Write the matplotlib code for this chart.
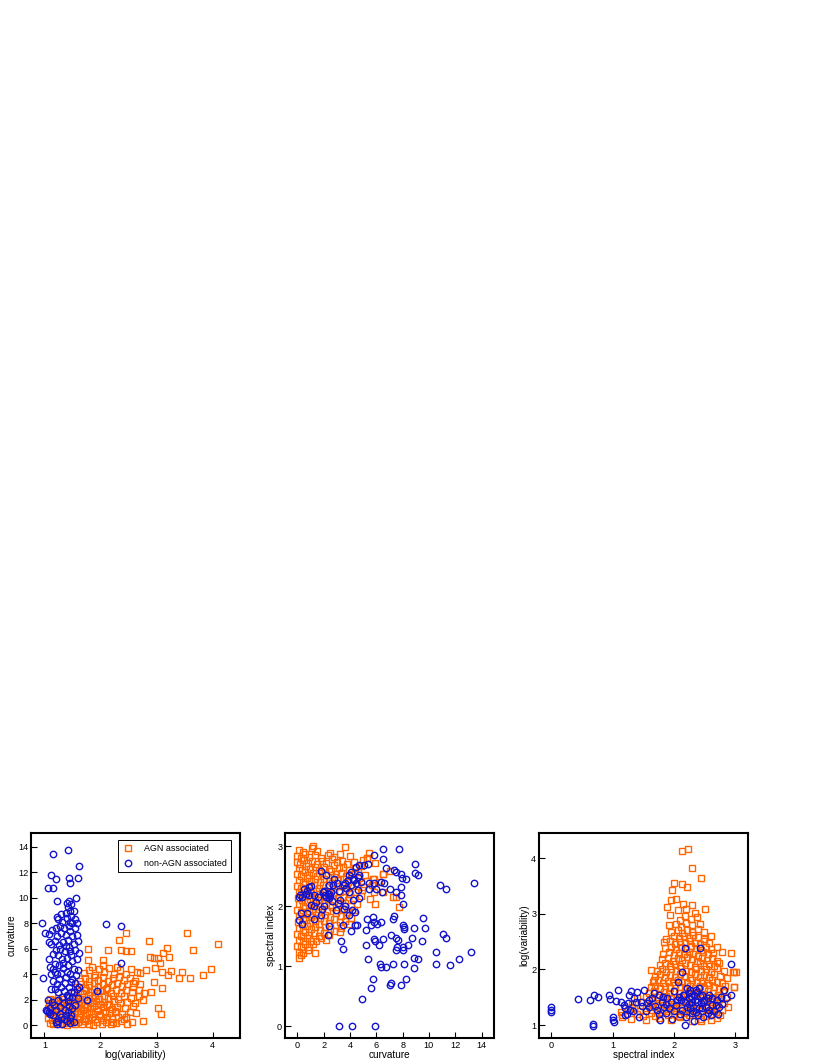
import matplotlib
matplotlib.use("Agg")
import matplotlib.pyplot as plt

plt.rcParams['font.family'] = ['Liberation Sans', 'DejaVu Sans']

# ---- panel 1 : log(variability) vs curvature ----
var_curv_agn = [
    (1.10, 0.15), (1.16, 0.05), (1.22, 0.22), (1.28, 0.08), (1.35, 0.18), (1.41, 0.04), (1.48, 0.25),
    (1.54, 0.10), (1.60, 0.20), (1.67, 0.06), (1.73, 0.28), (1.80, 0.12), (1.87, 0.02), (1.94, 0.20),
    (2.02, 0.10), (2.10, 0.26), (2.18, 0.05), (2.27, 0.18), (2.36, 0.30), (2.48, 0.12),
    (1.07, 0.55), (1.13, 0.42), (1.19, 0.66), (1.26, 0.48), (1.32, 0.60), (1.39, 0.40), (1.45, 0.70),
    (1.51, 0.52), (1.58, 0.44), (1.64, 0.65), (1.71, 0.50), (1.77, 0.38), (1.84, 0.62), (1.91, 0.47),
    (1.98, 0.68), (2.05, 0.42), (2.12, 0.60), (2.21, 0.50), (2.31, 0.66), (2.42, 0.45),
    (1.09, 0.95), (1.15, 0.84), (1.21, 1.05), (1.28, 0.90), (1.34, 1.10), (1.41, 0.82), (1.47, 1.00),
    (1.53, 0.88), (1.60, 1.08), (1.66, 0.92), (1.73, 0.80), (1.79, 1.02), (1.86, 0.90), (1.93, 1.12),
    (2.00, 0.85), (2.08, 1.00), (2.16, 0.92), (2.26, 1.08), (2.38, 0.88), (2.52, 1.02),
    (1.06, 1.35), (1.12, 1.22), (1.18, 1.48), (1.24, 1.30), (1.31, 1.44), (1.37, 1.20), (1.44, 1.38),
    (1.50, 1.26), (1.56, 1.50), (1.63, 1.32), (1.69, 1.20), (1.76, 1.45), (1.82, 1.30), (1.89, 1.52),
    (1.96, 1.25), (2.04, 1.40), (2.12, 1.55), (2.20, 1.28), (2.30, 1.45), (2.44, 1.35), (2.58, 1.50),
    (1.08, 1.75), (1.14, 1.62), (1.20, 1.88), (1.27, 1.70), (1.33, 1.85), (1.40, 1.60), (1.46, 1.80),
    (1.52, 1.66), (1.59, 1.92), (1.65, 1.72), (1.72, 1.60), (1.78, 1.86), (1.85, 1.70), (1.92, 1.90),
    (1.99, 1.64), (2.07, 1.82), (2.15, 1.68), (2.24, 1.92), (2.35, 1.75), (2.48, 1.85), (2.62, 1.70),
    (1.10, 2.05), (1.17, 2.00), (1.25, 2.15), (1.34, 2.02), (1.42, 2.22), (1.50, 2.08), (1.57, 2.30),
    (1.63, 2.05), (1.70, 2.20), (1.77, 2.35), (1.84, 2.10), (1.91, 2.28), (1.98, 2.05), (2.06, 2.25),
    (2.14, 2.12), (2.22, 2.32), (2.32, 2.08), (2.42, 2.25), (2.55, 2.15), (2.68, 2.30),
    (1.52, 2.55), (1.60, 2.70), (1.67, 2.48), (1.74, 2.75), (1.81, 2.58), (1.88, 2.80), (1.95, 2.50),
    (2.02, 2.68), (2.10, 2.82), (2.18, 2.55), (2.27, 2.72), (2.36, 2.48), (2.45, 2.78), (2.56, 2.60),
    (2.68, 2.75), (2.78, 2.55),
    (1.58, 3.00), (1.66, 3.20), (1.73, 2.95), (1.80, 3.15), (1.88, 3.28), (1.96, 3.02), (2.04, 3.22),
    (2.12, 2.95), (2.20, 3.18), (2.29, 3.30), (2.38, 3.05), (2.48, 3.25), (2.58, 2.98), (2.70, 3.20),
    (1.63, 3.50), (1.72, 3.70), (1.80, 3.45), (1.88, 3.78), (1.96, 3.55), (2.05, 3.75), (2.14, 3.48),
    (2.23, 3.68), (2.33, 3.80), (2.42, 3.52), (2.52, 3.72), (2.62, 3.45),
    (1.70, 4.10), (1.80, 4.30), (1.90, 3.95), (1.98, 4.40), (2.07, 4.15), (2.16, 4.45), (2.25, 4.00),
    (2.35, 4.30), (2.45, 4.05), (2.55, 4.38), (2.65, 4.20), (1.85, 4.60), (2.05, 4.70), (2.30, 4.60),
    (4.09, 6.37), (3.54, 7.21), (3.66, 5.90), (3.83, 3.93), (3.98, 4.40), (3.46, 4.20), (3.59, 3.67),
    (3.41, 3.72), (3.26, 4.27), (3.20, 3.93), (3.19, 6.03), (3.22, 5.37), (3.11, 5.64), (3.02, 5.30),
    (2.96, 5.30), (2.88, 5.37), (2.86, 6.60), (3.10, 4.20), (3.07, 4.85), (2.95, 3.40), (2.98, 4.46),
    (3.10, 2.88), (3.02, 1.31), (3.08, 0.84), (2.76, 0.31), (2.45, 7.26), (2.33, 6.69), (2.36, 5.90),
    (2.46, 5.82), (2.55, 5.82), (2.14, 5.90), (1.78, 5.98), (1.78, 5.11), (2.05, 5.11), (2.70, 4.06),
    (2.82, 4.33), (2.91, 2.62), (2.76, 1.97), (2.58, 3.28), (2.64, 0.92), (2.46, 0.66), (2.57, 0.26),
    (2.22, 0.26), (2.28, 1.05),
]
var_curv_other = [
    (1.16, 13.45), (1.42, 13.74), (1.62, 12.53), (1.12, 11.80), (1.43, 11.60), (1.59, 11.60),
    (1.21, 11.46), (1.46, 11.14), (1.06, 10.75), (1.16, 10.75), (1.56, 10.00), (1.22, 9.75),
    (1.43, 9.75), (0.96, 8.05), (1.01, 7.20), (2.09, 7.94), (2.36, 7.79), (2.36, 4.85), (1.93, 2.70),
    (1.76, 2.00), (0.98, 3.67), (1.09, 7.13), (1.13, 7.47),
    (1.02, 1.20), (1.05, 1.10), (1.08, 1.05), (1.10, 1.30), (1.06, 2.00), (1.13, 1.80), (1.10, 0.90),
    (1.15, 0.80), (1.20, 0.25), (1.22, 0.10), (1.25, 0.30), (1.28, 0.90), (1.30, 0.60), (1.32, 0.10),
    (1.35, 0.45), (1.38, 0.80), (1.40, 0.30), (1.42, 1.00), (1.45, 0.15), (1.46, 0.55), (1.48, 0.80),
    (1.50, 1.35), (1.52, 0.20), (1.28, 1.40), (1.20, 1.20), (1.17, 1.60), (1.24, 2.00), (1.35, 1.70),
    (1.42, 1.90), (1.50, 2.20), (1.55, 1.60), (1.60, 2.10), (1.58, 2.80), (1.62, 3.00), (1.55, 3.30),
    (1.48, 2.60), (1.40, 2.40), (1.32, 2.20), (1.25, 2.60), (1.18, 2.80), (1.12, 2.80), (1.15, 3.50),
    (1.22, 3.20), (1.30, 3.00), (1.37, 3.30), (1.44, 3.00), (1.50, 3.60), (1.56, 3.90), (1.60, 4.30),
    (1.52, 4.40), (1.45, 4.00), (1.38, 3.80), (1.30, 4.10), (1.22, 4.00), (1.15, 4.40), (1.10, 4.60),
    (1.18, 4.80), (1.26, 4.70), (1.34, 4.50), (1.42, 4.70), (1.50, 5.00), (1.58, 5.20), (1.62, 5.70),
    (1.55, 5.90), (1.48, 5.50), (1.40, 5.30), (1.32, 5.20), (1.24, 5.50), (1.16, 5.60), (1.20, 5.90),
    (1.28, 6.00), (1.36, 5.80), (1.44, 6.10), (1.52, 6.40), (1.60, 6.60), (1.58, 7.10), (1.50, 7.00),
    (1.42, 6.70), (1.34, 6.50), (1.26, 6.30), (1.18, 6.60), (1.12, 6.40), (1.08, 6.50), (1.22, 7.00),
    (1.30, 7.20), (1.38, 7.10), (1.46, 7.40), (1.54, 7.60), (1.58, 8.00), (1.50, 8.00), (1.43, 7.80),
    (1.35, 7.60), (1.27, 7.80), (1.20, 7.60), (1.24, 8.30), (1.32, 8.10), (1.40, 8.40), (1.48, 8.60),
    (1.55, 8.30), (1.45, 9.00), (1.38, 8.80), (1.42, 9.30), (1.40, 9.60), (1.47, 9.50), (1.52, 9.00),
    (1.30, 8.70), (1.22, 8.50), (1.45, 8.10), (1.38, 6.20), (1.46, 5.80), (1.33, 4.90), (1.41, 4.20),
    (1.47, 3.40), (1.35, 2.70), (1.43, 2.20), (1.36, 1.20), (1.44, 1.50), (1.52, 2.60), (1.26, 3.60),
    (1.19, 4.20), (1.12, 4.00), (1.09, 5.20),
]

# ---- panel 2 : curvature vs spectral index ----
curv_index_agn = [
    (0.10, 2.94), (0.40, 2.90), (1.10, 2.97), (1.50, 2.92), (2.50, 2.89), (3.60, 2.99), (1.15, 3.00),
    (0.00, 2.84), (0.30, 2.80), (0.60, 2.87), (0.90, 2.82), (1.30, 2.86), (1.80, 2.81), (2.30, 2.85),
    (2.80, 2.82), (3.20, 2.87), (4.00, 2.83), (5.30, 2.81), (5.47, 2.89),
    (-0.05, 2.74), (0.20, 2.71), (0.50, 2.77), (0.80, 2.72), (1.10, 2.76), (1.50, 2.70), (1.90, 2.75),
    (2.20, 2.72), (2.60, 2.78), (3.00, 2.73), (3.40, 2.76), (3.80, 2.71), (4.30, 2.74), (5.00, 2.77),
    (5.90, 2.72),
    (0.10, 2.64), (0.35, 2.61), (0.65, 2.67), (0.95, 2.62), (1.30, 2.66), (1.65, 2.60), (2.00, 2.65),
    (2.40, 2.62), (2.80, 2.68), (3.15, 2.63), (3.50, 2.66), (3.90, 2.61), (4.40, 2.64), (4.80, 2.67),
    (6.50, 2.53), (7.00, 2.58),
    (0.00, 2.54), (0.25, 2.51), (0.55, 2.57), (0.85, 2.52), (1.20, 2.56), (1.50, 2.50), (1.85, 2.55),
    (2.20, 2.52), (2.55, 2.58), (2.90, 2.53), (3.30, 2.56), (3.70, 2.51), (4.10, 2.54), (4.60, 2.57),
    (5.10, 2.52), (5.80, 2.46),
    (0.10, 2.44), (0.40, 2.41), (0.70, 2.47), (1.00, 2.42), (1.35, 2.46), (1.70, 2.40), (2.05, 2.45),
    (2.40, 2.42), (2.75, 2.48), (3.10, 2.43), (3.45, 2.46), (3.85, 2.41), (4.25, 2.44), (4.70, 2.47),
    (5.30, 2.42), (6.20, 2.40),
    (0.00, 2.34), (0.30, 2.31), (0.60, 2.37), (0.90, 2.32), (1.25, 2.36), (1.60, 2.30), (1.95, 2.35),
    (2.30, 2.32), (2.65, 2.38), (3.00, 2.33), (3.35, 2.36), (3.75, 2.31), (4.15, 2.34), (4.55, 2.37),
    (5.00, 2.32), (5.70, 2.35),
    (0.15, 2.24), (0.45, 2.21), (0.75, 2.27), (1.05, 2.22), (1.40, 2.26), (1.75, 2.20), (2.10, 2.25),
    (2.45, 2.22), (2.80, 2.28), (3.20, 2.23), (3.60, 2.26), (4.00, 2.21), (4.40, 2.24), (4.90, 2.27),
    (5.85, 2.24), (6.49, 2.24), (7.30, 2.16), (7.50, 2.16),
    (0.05, 2.14), (0.35, 2.11), (0.65, 2.17), (0.95, 2.12), (1.30, 2.16), (1.65, 2.10), (2.00, 2.15),
    (2.35, 2.12), (2.70, 2.18), (3.05, 2.13), (3.45, 2.16), (3.85, 2.11), (4.30, 2.14), (4.80, 2.17),
    (5.50, 2.12),
    (0.10, 2.04), (0.40, 2.01), (0.70, 2.07), (1.00, 2.02), (1.35, 2.06), (1.70, 2.00), (2.05, 2.05),
    (2.45, 2.02), (2.80, 2.08), (3.20, 2.03), (3.60, 2.06), (4.05, 2.01), (4.50, 2.04), (5.93, 2.03),
    (7.70, 1.99),
    (0.00, 1.94), (0.30, 1.91), (0.60, 1.97), (0.90, 1.92), (1.20, 1.96), (1.55, 1.90), (1.90, 1.95),
    (2.25, 1.92), (2.60, 1.98), (3.00, 1.93), (3.40, 1.96), (3.80, 1.91), (4.30, 1.94),
    (0.15, 1.84), (0.45, 1.81), (0.75, 1.87), (1.05, 1.82), (1.40, 1.86), (1.75, 1.80), (2.10, 1.85),
    (2.50, 1.82), (2.90, 1.88), (3.30, 1.83), (3.70, 1.86), (4.10, 1.81),
    (0.05, 1.74), (0.35, 1.71), (0.65, 1.77), (0.95, 1.72), (1.30, 1.76), (1.65, 1.70), (2.00, 1.75),
    (2.40, 1.72), (2.80, 1.78), (3.20, 1.73), (3.60, 1.76), (3.90, 1.71),
    (0.10, 1.64), (0.40, 1.61), (0.70, 1.67), (1.00, 1.62), (1.35, 1.66), (1.70, 1.60), (2.10, 1.65),
    (2.50, 1.62), (2.90, 1.68), (3.30, 1.63),
    (0.00, 1.54), (0.30, 1.51), (0.60, 1.57), (0.90, 1.52), (1.25, 1.56), (1.60, 1.50), (2.00, 1.55),
    (2.40, 1.52), (2.80, 1.58), (3.23, 1.57),
    (0.10, 1.44), (0.40, 1.41), (0.70, 1.47), (1.00, 1.42), (1.40, 1.41), (1.80, 1.46), (2.20, 1.43),
    (0.00, 1.34), (0.30, 1.31), (0.60, 1.37), (0.90, 1.32), (1.20, 1.36),
    (0.10, 1.24), (0.40, 1.21), (0.80, 1.27), (1.35, 1.21),
    (0.13, 1.13), (0.25, 1.18), (5.27, 2.81), (5.78, 2.46), (6.49, 2.53),
]
curv_index_other = [
    (3.13, 0.00), (4.15, 0.00), (5.90, 0.00), (4.91, 0.45), (5.60, 0.64), (5.73, 0.79), (7.00, 0.68),
    (7.08, 0.71), (7.84, 0.69), (8.27, 0.78), (5.35, 1.11), (6.36, 0.99), (6.29, 1.04), (6.74, 0.99),
    (7.25, 1.03), (8.09, 1.03), (8.83, 1.13), (9.16, 1.12), (8.86, 0.96), (10.56, 1.03), (11.58, 1.02),
    (12.29, 1.12), (13.23, 1.23), (10.56, 1.24), (6.18, 1.35), (5.22, 1.35), (5.80, 1.45), (6.49, 1.45),
    (5.93, 1.41), (7.13, 1.52), (7.51, 1.47), (7.63, 1.43), (8.02, 1.32), (8.40, 1.35), (8.73, 1.47),
    (9.49, 1.41), (11.07, 1.54), (11.33, 1.46), (7.51, 1.27), (7.58, 1.31), (8.02, 1.27), (3.31, 1.41),
    (3.44, 1.29), (2.29, 1.52), (5.22, 1.60), (5.60, 1.68), (5.85, 1.74), (6.03, 1.71), (6.36, 1.74),
    (5.27, 1.79), (5.73, 1.82), (7.25, 1.79), (7.38, 1.84), (8.02, 1.68), (8.14, 1.66), (8.09, 1.62),
    (8.86, 1.63), (9.72, 1.63), (9.54, 1.81), (4.07, 1.58), (4.40, 1.69), (4.53, 1.68), (3.95, 1.85),
    (4.15, 1.93), (4.40, 1.91), (4.20, 2.10), (4.71, 2.14), (4.07, 2.57), (4.45, 2.66), (4.71, 2.68),
    (5.09, 2.68), (5.35, 2.71), (5.85, 2.86), (6.49, 2.95), (7.76, 2.96), (6.49, 2.79), (6.74, 2.63),
    (7.38, 2.60), (7.51, 2.57), (7.89, 2.53), (7.96, 2.47), (8.22, 2.45), (7.84, 2.32), (7.51, 2.24),
    (7.84, 2.19), (8.02, 2.04), (7.00, 2.29), (6.55, 2.38), (6.36, 2.41), (6.44, 2.24), (5.47, 2.29),
    (5.42, 2.38), (5.85, 2.38), (5.98, 2.29), (8.96, 2.56), (9.16, 2.52), (8.96, 2.71), (10.87, 2.35),
    (11.33, 2.28), (13.44, 2.39), (1.86, 1.96), (0.76, 1.88), (0.08, 1.77), (0.38, 1.71), (1.27, 1.78),
    (2.37, 1.67), (3.49, 1.69), (0.25, 1.89), (4.58, 2.27), (3.95, 2.24),
    (0.08, 2.16), (0.20, 2.18), (0.51, 2.29), (0.89, 2.32), (1.02, 2.34), (0.76, 2.26), (0.89, 2.18),
    (1.22, 2.18), (1.02, 2.02), (1.27, 2.00), (0.38, 2.16), (1.53, 2.16), (1.78, 2.58), (1.96, 2.24),
    (2.04, 2.26), (2.11, 2.18), (2.16, 2.16), (2.29, 2.21), (2.42, 2.21), (2.47, 2.17), (2.55, 2.24),
    (2.37, 2.13), (2.16, 2.52), (2.42, 2.35), (2.67, 2.35), (2.80, 2.45), (2.98, 2.39), (3.18, 2.26),
    (3.23, 2.10), (3.05, 2.06), (2.62, 2.08), (2.04, 2.00), (3.51, 2.35), (3.64, 2.38), (3.69, 2.31),
    (3.82, 2.43), (3.95, 2.52), (4.20, 2.46), (4.33, 2.43), (4.45, 2.39), (4.58, 2.49), (4.71, 2.52),
    (4.84, 2.40), (4.07, 2.35), (3.64, 2.00), (3.51, 1.96), (2.93, 1.93), (1.78, 1.86), (1.40, 2.07),
    (0.64, 2.21),
]

# ---- panel 3 : spectral index vs log(variability) ----
index_var_agn = [
    (1.30, 1.12), (1.55, 1.09), (1.75, 1.13), (1.95, 1.10), (2.10, 1.14), (2.30, 1.08), (2.45, 1.12),
    (2.60, 1.10), (2.70, 1.13),
    (1.16, 1.18), (1.40, 1.20), (1.50, 1.16), (1.62, 1.21), (1.70, 1.17), (1.80, 1.22), (1.90, 1.18),
    (2.00, 1.20), (2.08, 1.16), (2.16, 1.22), (2.25, 1.18), (2.35, 1.21), (2.52, 1.17), (2.62, 1.20),
    (2.75, 1.19),
    (1.25, 1.28), (1.35, 1.31), (1.45, 1.26), (1.55, 1.30), (1.65, 1.27), (1.72, 1.32), (1.80, 1.28),
    (1.88, 1.25), (1.96, 1.31), (2.04, 1.27), (2.12, 1.30), (2.20, 1.26), (2.28, 1.32), (2.36, 1.28),
    (2.44, 1.25), (2.52, 1.31), (2.60, 1.27), (2.68, 1.30), (2.78, 1.28),
    (1.32, 1.38), (1.48, 1.41), (1.58, 1.36), (1.66, 1.40), (1.74, 1.37), (1.82, 1.42), (1.90, 1.38),
    (1.98, 1.35), (2.06, 1.41), (2.14, 1.37), (2.22, 1.40), (2.30, 1.36), (2.38, 1.42), (2.46, 1.38),
    (2.54, 1.35), (2.62, 1.41), (2.70, 1.37), (2.82, 1.40),
    (1.40, 1.48), (1.55, 1.51), (1.64, 1.46), (1.72, 1.50), (1.80, 1.47), (1.88, 1.52), (1.96, 1.48),
    (2.04, 1.45), (2.12, 1.51), (2.20, 1.47), (2.28, 1.50), (2.36, 1.46), (2.44, 1.52), (2.52, 1.48),
    (2.60, 1.45), (2.68, 1.51), (2.76, 1.47), (2.86, 1.50),
    (1.60, 1.58), (1.68, 1.61), (1.76, 1.56), (1.84, 1.60), (1.92, 1.57), (2.00, 1.62), (2.08, 1.58),
    (2.16, 1.55), (2.24, 1.61), (2.32, 1.57), (2.40, 1.60), (2.48, 1.56), (2.56, 1.62), (2.64, 1.58),
    (2.72, 1.55), (2.80, 1.61),
    (1.62, 1.68), (1.70, 1.71), (1.78, 1.66), (1.86, 1.70), (1.94, 1.67), (2.02, 1.72), (2.10, 1.68),
    (2.18, 1.65), (2.26, 1.71), (2.34, 1.67), (2.42, 1.70), (2.50, 1.66), (2.58, 1.72), (2.66, 1.68),
    (2.74, 1.65), (2.84, 1.71), (2.98, 1.69),
    (1.66, 1.78), (1.74, 1.81), (1.82, 1.76), (1.90, 1.80), (1.98, 1.77), (2.06, 1.82), (2.14, 1.78),
    (2.22, 1.75), (2.30, 1.81), (2.38, 1.77), (2.46, 1.80), (2.54, 1.76), (2.62, 1.82), (2.70, 1.78),
    (2.78, 1.75),
    (1.70, 1.88), (1.78, 1.91), (1.86, 1.86), (1.94, 1.90), (2.02, 1.87), (2.10, 1.92), (2.18, 1.88),
    (2.26, 1.85), (2.34, 1.91), (2.42, 1.87), (2.50, 1.90), (2.58, 1.86), (2.66, 1.92), (2.76, 1.88),
    (2.86, 1.85),
    (1.72, 1.98), (1.80, 2.01), (1.88, 1.96), (1.96, 2.00), (2.04, 1.97), (2.12, 2.02), (2.20, 1.98),
    (2.28, 1.95), (2.36, 2.01), (2.44, 1.97), (2.52, 2.00), (2.60, 1.96), (2.70, 2.02), (2.82, 1.98),
    (2.96, 1.96),
    (1.78, 2.08), (1.86, 2.11), (1.94, 2.06), (2.02, 2.10), (2.10, 2.07), (2.18, 2.12), (2.26, 2.08),
    (2.34, 2.05), (2.42, 2.11), (2.50, 2.07), (2.58, 2.10), (2.66, 2.06), (2.74, 2.12),
    (1.80, 2.18), (1.90, 2.21), (1.98, 2.16), (2.06, 2.20), (2.14, 2.17), (2.22, 2.22), (2.30, 2.18),
    (2.38, 2.15), (2.46, 2.21), (2.54, 2.17), (2.62, 2.20), (2.70, 2.16),
    (1.82, 2.28), (1.92, 2.31), (2.00, 2.26), (2.08, 2.30), (2.16, 2.27), (2.24, 2.32), (2.32, 2.28),
    (2.40, 2.25), (2.48, 2.31), (2.56, 2.27), (2.64, 2.30), (2.79, 2.32), (2.93, 2.30),
    (1.86, 2.38), (1.96, 2.41), (2.04, 2.36), (2.12, 2.40), (2.20, 2.37), (2.28, 2.42), (2.36, 2.38),
    (2.44, 2.35), (2.52, 2.41), (2.60, 2.37), (2.70, 2.40),
    (1.84, 2.49), (1.94, 2.51), (2.02, 2.46), (2.10, 2.50), (2.18, 2.47), (2.26, 2.52), (2.34, 2.48),
    (2.42, 2.45), (2.50, 2.51), (2.58, 2.47),
    (1.87, 2.55), (2.00, 2.61), (2.08, 2.56), (2.16, 2.60), (2.24, 2.57), (2.32, 2.62), (2.40, 2.58),
    (2.50, 2.55), (2.60, 2.61),
    (1.96, 2.68), (2.06, 2.71), (2.14, 2.66), (2.22, 2.70), (2.30, 2.67), (2.40, 2.72), (2.50, 2.68),
    (1.92, 2.79), (2.04, 2.82), (2.12, 2.76), (2.20, 2.84), (2.30, 2.79), (2.42, 2.81),
    (1.94, 2.97), (2.10, 2.88), (2.18, 2.96), (2.28, 2.90), (2.38, 2.94),
    (2.06, 3.06), (2.20, 3.08), (2.34, 3.02),
    (2.13, 4.13), (2.23, 4.16), (2.29, 3.82), (2.45, 3.64), (2.00, 3.55), (2.14, 3.54), (2.21, 3.48),
    (1.97, 3.42), (1.95, 3.24), (2.03, 3.26), (2.15, 3.18), (2.30, 3.16), (2.51, 3.08), (1.89, 3.12),
    (1.62, 1.99), (1.67, 1.82), (2.98, 1.96), (3.01, 1.96), (2.98, 1.69), (2.88, 1.33), (1.13, 1.24),
    (1.16, 1.15), (1.32, 1.33), (2.44, 1.08), (2.68, 1.24),
]
index_var_other = [
    (0.00, 1.33), (0.00, 1.27), (0.00, 1.23), (0.44, 1.47), (0.63, 1.45), (0.70, 1.55), (0.76, 1.50),
    (0.68, 1.02), (0.68, 0.98), (1.01, 1.14), (1.01, 1.10), (1.02, 1.05), (0.94, 1.54), (0.96, 1.47),
    (1.09, 1.63), (1.05, 1.44), (1.13, 1.41), (1.18, 1.36), (1.21, 1.18), (1.24, 1.20), (1.29, 1.27),
    (1.27, 1.54), (1.30, 1.62), (1.35, 1.48), (1.40, 1.59), (1.43, 1.14), (1.46, 1.42), (1.51, 1.63),
    (1.57, 1.39), (1.59, 1.32), (1.65, 1.48), (1.67, 1.57), (1.73, 1.27), (1.76, 1.54), (1.78, 1.10),
    (1.80, 1.42), (1.84, 1.33), (1.87, 1.21), (1.89, 1.48), (1.92, 1.30), (1.97, 1.11), (2.00, 1.61),
    (2.03, 1.36), (2.06, 1.78), (2.14, 1.96), (2.18, 2.38), (2.18, 1.01), (2.22, 1.33), (2.25, 1.48),
    (2.27, 1.63), (2.30, 1.42), (2.33, 1.08), (2.36, 1.24), (2.38, 1.60), (2.41, 1.66), (2.43, 2.38),
    (2.44, 1.39), (2.48, 1.15), (2.52, 1.33), (2.55, 1.48), (2.60, 1.18), (2.63, 1.48), (2.68, 1.36),
    (2.77, 1.51), (2.82, 1.63), (2.93, 1.55), (2.94, 2.09), (2.17, 1.54), (2.22, 1.66), (2.11, 1.45),
    (2.27, 1.30), (2.33, 1.54), (2.38, 1.42), (2.19, 1.42), (2.25, 1.57), (2.30, 1.21), (2.36, 1.63),
    (2.14, 1.27), (2.09, 1.51), (2.46, 1.54), (2.58, 1.27), (2.49, 1.45), (2.41, 1.30), (2.74, 1.33),
    (2.00, 1.25), (2.05, 1.45), (2.10, 1.20), (2.15, 1.55), (2.20, 1.15), (2.24, 1.38), (2.28, 1.52),
    (2.32, 1.26), (2.35, 1.45), (2.40, 1.18), (2.42, 1.52), (2.46, 1.30), (2.50, 1.42), (2.55, 1.22),
    (2.58, 1.55), (2.62, 1.36), (2.66, 1.25), (2.70, 1.45), (2.72, 1.20), (2.78, 1.38), (2.85, 1.48),
    (1.60, 1.45), (1.70, 1.35), (1.75, 1.20), (1.82, 1.50), (1.88, 1.38), (1.95, 1.42), (1.55, 1.25),
    (1.48, 1.35), (1.38, 1.42), (1.33, 1.25), (1.25, 1.40), (1.20, 1.30),
]

agn_label = 'AGN associated'
other_label = 'non-AGN associated'
agn_color = '#ff6600'
other_color = '#1414cc'

panels = [
    (var_curv_agn, var_curv_other, 'log(variability)', 'curvature',
     (0.76, 4.49), (-1.02, 15.1), [1, 2, 3, 4], list(range(0, 15, 2))),
    (curv_index_agn, curv_index_other, 'curvature', 'spectral index',
     (-0.95, 14.95), (-0.2, 3.22), list(range(0, 15, 2)), [0, 1, 2, 3]),
    (index_var_agn, index_var_other, 'spectral index', 'log(variability)',
     (-0.2, 3.21), (0.77, 4.45), [0, 1, 2, 3], [1, 2, 3, 4]),
]

W, H = 822, 1064
fig = plt.figure(figsize=(W / 100, H / 100), dpi=100)
lefts = [31, 285, 539]
fs = 6.6

for i, (agn, other, xl, yl, xlim, ylim, xt, yt) in enumerate(panels):
    ax = fig.add_axes([lefts[i] / W, (H - 1038) / H, 209 / W, 205 / H])
    ax.plot([p[0] for p in agn], [p[1] for p in agn], ls='none', marker='s', ms=4.4,
            mfc='none', mec=agn_color, mew=1.0, label=agn_label)
    ax.plot([p[0] for p in other], [p[1] for p in other], ls='none', marker='o', ms=4.6,
            mfc='none', mec=other_color, mew=1.0, label=other_label)
    ax.set_xlim(*xlim)
    ax.set_ylim(*ylim)
    ax.set_xticks(xt)
    ax.set_yticks(yt)
    ax.tick_params(direction='in', length=4, width=0.8, labelsize=fs, pad=2,
                   top=False, right=False)
    ax.set_xlabel(xl, fontsize=fs + 0.6, labelpad=0.3)
    ax.set_ylabel(yl, fontsize=fs + 0.6, labelpad=1)
    for s in ax.spines.values():
        s.set_linewidth(1.5)
    if i == 0:
        leg = ax.legend(loc='upper right', bbox_to_anchor=(0.957, 0.966), borderaxespad=0,
                        fontsize=fs - 0.2, fancybox=False, framealpha=1, handlelength=1.2,
                        handletextpad=1.2, borderpad=0.5, labelspacing=0.6, markerscale=1.0)
        leg.get_frame().set_edgecolor('black')
        leg.get_frame().set_linewidth(0.7)

fig.savefig('out.png', dpi=100)
